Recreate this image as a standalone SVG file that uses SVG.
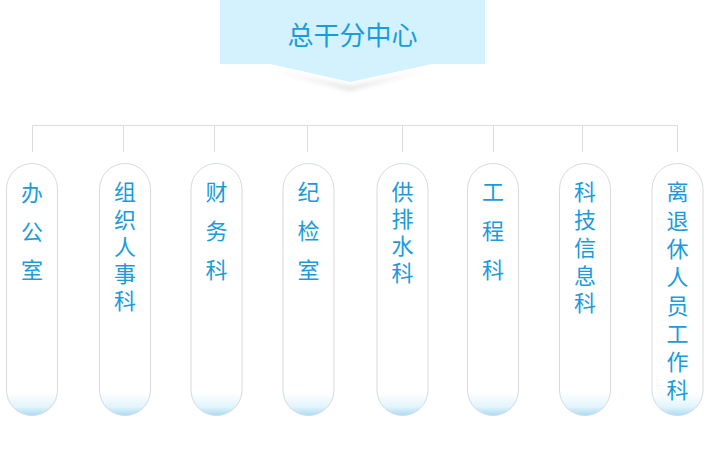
<svg xmlns="http://www.w3.org/2000/svg" width="710" height="464" viewBox="0 0 710 464">
<defs>
<style>
.pill{fill:url(#pg);stroke:#d5dbdf;stroke-width:1}
.lbl{font-family:"Noto Sans CJK SC","Noto Sans",sans-serif;font-size:22px;fill:#1a9bdc;writing-mode:vertical-rl;text-anchor:start}
.conn{stroke:#dcdcdc;stroke-width:1;fill:none}
</style>
<linearGradient id="pg" x1="0" y1="0" x2="0" y2="1">
<stop offset="0" stop-color="#ffffff"/>
<stop offset="0.91" stop-color="#ffffff"/>
<stop offset="0.965" stop-color="#e2f4fc"/>
<stop offset="1" stop-color="#a9dcf3"/>
</linearGradient>
<linearGradient id="sg" x1="0" y1="0" x2="1" y2="0">
<stop offset="0" stop-color="#f2f2f2" stop-opacity="0"/>
<stop offset="0.5" stop-color="#e4e4e4"/>
<stop offset="1" stop-color="#f2f2f2" stop-opacity="0"/>
</linearGradient>
<filter id="blur" x="-20%" y="-50%" width="140%" height="200%"><feGaussianBlur stdDeviation="2"/></filter>
</defs>
<rect width="710" height="464" fill="#ffffff"/>
<g id="root">
<polygon points="262,66 350,86 438,66 438,70 350,91 262,70" fill="url(#sg)" filter="url(#blur)"/>
<polygon points="220,0 485,0 485,64 432,64 350,82 270,64 220,64" fill="#d4f2fd"/>
<text x="352.5" y="33" style="font-family:'Noto Sans CJK SC','Noto Sans',sans-serif;font-size:26px;fill:#1a9bdc;text-anchor:middle;dominant-baseline:central">总干分中心</text>
</g>
<g id="connectors">
<path class="conn" d="M32,125.5H677.5"/>
<path class="conn" d="M32.5,125V152M123.5,125V152M214.5,125V152M307.5,125V152M402.5,125V152M493.5,125V152M582.5,125V152M677.5,125V152"/>
</g>
<g id="n1"><rect class="pill" x="6.5" y="163.5" width="51" height="252" rx="25.5"/>
<text class="lbl" x="32" y="182" letter-spacing="16.5">办公室</text></g>
<g id="n2"><rect class="pill" x="99.5" y="163.5" width="51" height="252" rx="25.5"/>
<text class="lbl" x="125" y="181" letter-spacing="5.25">组织人事科</text></g>
<g id="n3"><rect class="pill" x="191" y="163.5" width="51" height="252" rx="25.5"/>
<text class="lbl" x="216.5" y="181" letter-spacing="17">财务科</text></g>
<g id="n4"><rect class="pill" x="283" y="163.5" width="51" height="252" rx="25.5"/>
<text class="lbl" x="308.5" y="181" letter-spacing="17">纪检室</text></g>
<g id="n5"><rect class="pill" x="377" y="163.5" width="51" height="252" rx="25.5"/>
<text class="lbl" x="402.5" y="181" letter-spacing="5">供排水科</text></g>
<g id="n6"><rect class="pill" x="467.5" y="163.5" width="51" height="252" rx="25.5"/>
<text class="lbl" x="493" y="181" letter-spacing="17">工程科</text></g>
<g id="n7"><rect class="pill" x="559.5" y="163.5" width="51" height="252" rx="25.5"/>
<text class="lbl" x="585" y="181" letter-spacing="5.75">科技信息科</text></g>
<g id="n8"><rect class="pill" x="652" y="163.5" width="51" height="252" rx="25.5"/>
<text class="lbl" x="677.5" y="181" letter-spacing="6.3">离退休人员工作科</text></g>
</svg>
